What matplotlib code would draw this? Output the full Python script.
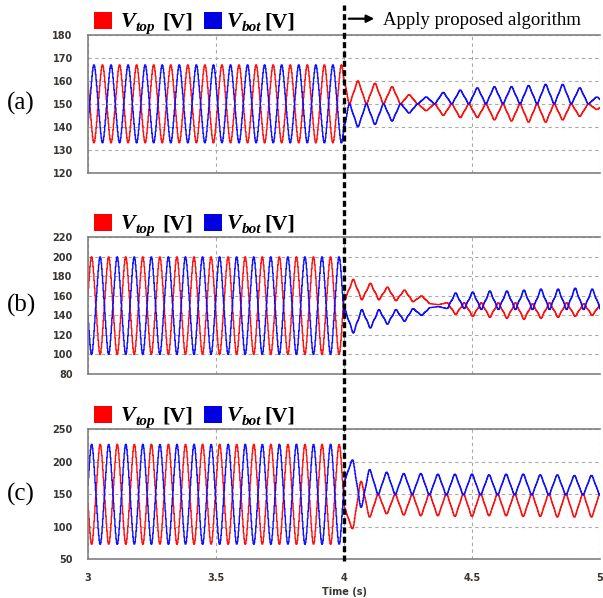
import numpy as np
import matplotlib
matplotlib.use("Agg")
import matplotlib.pyplot as plt
from matplotlib.lines import Line2D
from matplotlib.patches import Rectangle, FancyArrowPatch

W, H = 603, 598
F_LINE = 15.0      # Hz, capacitor voltage ripple
T_SWITCH = 4.0     # algorithm enabled here
DT = 0.002         # sample step of the simulation output

# y-axis ranges / ticks of the three cases
ylims = [(120, 180), (80, 220), (50, 250)]
ystep = [10, 20, 50]
xticks = [3, 3.5, 4, 4.5, 5]
xtick_labels = ["3", "3.5", "4", "4.5", "5"]
panel_names = ["(a)", "(b)", "(c)"]

# steady oscillation before the switch
pre_center = [150, 150, 150]
pre_amp = [17, 50, 77]
pre_red_crest = [2.99, 3.014, 2.981]   # time of a V_top crest
pre_k = 0.05                           # 3rd harmonic share, before
crest_k = [0.12, 0.16, 0.10]           # 3rd harmonic share, after

# after the switch: first cycle edge, then per-cycle values
# mid = value in the middle of each cycle, edge = value at the cycle edge
post_edge0 = [4.021, 4.003, 4.0]

a_red_mid = [167, 160, 159, 157.5, 154, 147, 145, 144, 144, 143, 142.5, 142, 142, 143, 144.5, 147.5]
a_red_edge = [150, 150, 150, 150, 150, 150, 150, 150, 150, 150, 150, 150, 150, 150, 150, 150]
a_blue_mid = [133, 140, 141, 142.5, 146, 153, 155, 156, 157, 157.5, 157.5, 158, 158.5, 158.5, 157, 153]
a_blue_edge = [150, 150, 150, 150, 150, 150, 150, 150, 150, 150, 150, 150, 150, 150, 150, 150]

b_red_mid = [100, 177, 173, 169, 166, 160, 151, 141, 139, 138, 137, 136, 137, 138, 139, 140]
b_red_edge = [156, 156, 156, 155, 154, 152, 153, 153, 153, 153, 153, 152, 153, 153, 152, 152]
b_blue_mid = [200, 122, 127, 131, 134, 140, 149, 163, 164, 165, 165, 166, 167, 167, 168, 167]
b_blue_edge = [146, 146, 146, 146, 147, 148, 147, 147, 146, 146, 146, 146, 146, 146, 146, 146]

c_red_mid = [85, 97, 115, 120, 118, 117, 117, 116, 116, 117, 117, 116, 116, 115, 115, 115]
c_red_edge = [130, 170, 150, 150, 150, 151, 151, 151, 151, 151, 151, 151, 151, 151, 151, 151]
c_blue_mid = [215, 203, 188, 184, 182, 182, 181, 181, 181, 180, 181, 181, 180, 180, 179, 179]
c_blue_edge = [170, 130, 150, 150, 150, 149, 149, 149, 149, 149, 149, 149, 149, 149, 149, 149]

post_red = [(a_red_mid, a_red_edge), (b_red_mid, b_red_edge), (c_red_mid, c_red_edge)]
post_blue = [(a_blue_mid, a_blue_edge), (b_blue_mid, b_blue_edge), (c_blue_mid, c_blue_edge)]

RED = "#ff1010"
BLUE = "#1010ff"


def crest_shape(theta, k):
    return (np.cos(theta) + k * np.cos(3 * theta)) / (1 + k)


def pre_wave(t, center, amp, t_crest, k):
    return center + amp * crest_shape(2 * np.pi * F_LINE * (t - t_crest), k)


def post_wave(t, edge0, mids, edges, k):
    vals = np.empty(len(mids) + len(edges))
    vals[0::2] = mids
    vals[1::2] = edges
    lead = edge0 - 1 / (2 * F_LINE)
    pos = (t - lead) * 2 * F_LINE
    j = np.clip(pos.astype(int), 0, len(vals) - 2)
    phi = np.pi * np.clip(pos - j, 0, 1)
    g = (1 - crest_shape(phi, k)) / 2
    return vals[j] + (vals[j + 1] - vals[j]) * g


def px(x, y):
    return x / W, 1 - y / H


fig = plt.figure(figsize=(W / 100, H / 100), dpi=100)

# axes boxes in pixels: (top, bottom)
boxes = [(35, 172.7), (237.3, 374), (429.3, 559.3)]
x_left, x_right = 88, 600

t = np.arange(3.0, 5.0 + DT / 2, DT)
before = t <= T_SWITCH

for i, (top, bot) in enumerate(boxes):
    ax = fig.add_axes([x_left / W, 1 - bot / H, (x_right - x_left) / W, (bot - top) / H])
    k = crest_k[i]

    red = np.where(before,
                   pre_wave(t, pre_center[i], pre_amp[i], pre_red_crest[i], pre_k),
                   post_wave(t, post_edge0[i], *post_red[i], k))
    blue = np.where(before,
                    pre_wave(t, pre_center[i], -pre_amp[i], pre_red_crest[i], pre_k),
                    post_wave(t, post_edge0[i], *post_blue[i], k))

    ax.plot(t, red, color=RED, lw=1.0, drawstyle="steps-mid")
    ax.plot(t, blue, color=BLUE, lw=1.0, drawstyle="steps-mid")

    ax.set_xlim(3, 5)
    ax.set_ylim(*ylims[i])
    ax.set_yticks(np.arange(ylims[i][0], ylims[i][1] + 1, ystep[i]))
    ax.set_xticks(xticks)
    ax.grid(True, color="#a8a8a8", linestyle=(0, (3, 3)), lw=0.8)
    ax.tick_params(length=0, labelsize=7, labelcolor="#3a3530", pad=11)
    for lab in ax.get_yticklabels():
        lab.set_fontweight("bold")
    if i == 2:
        ax.set_xticklabels(xtick_labels, fontweight="bold")
        ax.tick_params(axis="x", pad=10)
        ax.set_xlabel("Time (s)", fontsize=7, fontweight="bold", color="#3a3530", labelpad=3)
    else:
        ax.set_xticklabels([])
    for side in ["left", "top", "bottom"]:
        ax.spines[side].set_color("#808080")
        ax.spines[side].set_linewidth(1.2)
    ax.spines["right"].set_visible(False)

    # panel tag
    fig.text(*px(21, (top + bot) / 2), panel_names[i], fontfamily="Liberation Serif",
             fontsize=18, ha="center", va="center")

    # legend row above the box
    base = top - 8
    sq_top = top - 23.5
    fig.add_artist(Rectangle(px(94, sq_top + 17), 18 / W, 17 / H, transform=fig.transFigure,
                             facecolor="#ff0000", edgecolor="none"))
    fig.add_artist(Rectangle(px(204, sq_top + 17), 18 / W, 17 / H, transform=fig.transFigure,
                             facecolor="#0000e0", edgecolor="none"))
    for x0, sub in [(121, "top"), (227, "bot")]:
        fig.text(*px(x0, base), "V", fontfamily="Liberation Serif", fontsize=16,
                 fontweight="bold", fontstyle="italic", va="baseline")
        fig.text(*px(x0 + 15, base + 4), sub, fontfamily="Liberation Serif", fontsize=11,
                 fontweight="bold", fontstyle="italic", va="baseline")
    fig.text(*px(162, base), "[V]", fontfamily="Liberation Serif", fontsize=16,
             fontweight="bold", va="baseline")
    fig.text(*px(264, base), "[V]", fontfamily="Liberation Serif", fontsize=16,
             fontweight="bold", va="baseline")

# switching instant, across all panels (stops at the last axis)
fig.add_artist(Line2D([343.5 / W, 343.5 / W], [1 - 561 / H, 1 - 5 / H], transform=fig.transFigure,
                      color="black", lw=2.4, dashes=(1.8, 1.0), solid_capstyle="butt"))

fig.add_artist(FancyArrowPatch(px(346, 18.7), px(377, 18.7), transform=fig.transFigure,
                               arrowstyle="-|>", mutation_scale=11, lw=1.6, color="black"))
fig.text(*px(383, 25), "Apply proposed algorithm", fontfamily="Liberation Serif",
         fontsize=13.5, va="baseline")

fig.savefig("out.png", dpi=100)
